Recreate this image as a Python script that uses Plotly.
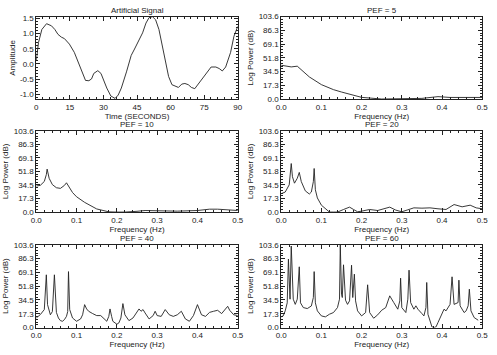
import plotly.graph_objects as go

# ---- Data ----
sig_t = [0, 1, 2.5, 4.6, 6.8, 8.3, 9.7, 11.2, 12.6, 14.8, 17, 19.2, 20.6, 22, 23.5, 24.7, 25.7,
         27.5, 28.9, 30, 31.5, 33.3, 35.2, 36.6, 38, 40.3, 42.4, 43.9, 46.1, 47.5, 49, 50.4, 51.9,
         53.3, 54.8, 56.2, 57.7, 59.1, 60.6, 62.1, 63.5, 65, 66.4, 67.9, 69.3, 70.8, 72.2, 73.7,
         75.9, 78.1, 80.2, 81.7, 83.1, 84.6, 86.8, 88.3, 90]
sig_v = [0.1, 0.7, 1.13, 1.32, 1.25, 1.13, 0.97, 0.88, 0.83, 0.65, 0.38, 0.0, -0.3, -0.54, -0.55,
         -0.49, -0.31, -0.22, -0.31, -0.52, -0.79, -1.05, -1.13, -1.02, -0.79, -0.26, 0.28, 0.49,
         0.81, 1.02, 1.34, 1.52, 1.55, 1.45, 1.13, 0.6, 0.06, -0.41, -0.68, -0.73, -0.77, -0.66,
         -0.64, -0.68, -0.77, -0.81, -0.68, -0.52, -0.31, -0.1, -0.1, -0.15, -0.23, -0.1, 0.38,
         0.91, 1.23]

pef5_f = [0, 0.025, 0.04, 0.05, 0.07, 0.1, 0.13, 0.15, 0.2, 0.25, 0.3, 0.35, 0.39, 0.42, 0.5]
pef5_p = [42.5, 40.4, 41.3, 37, 27.8, 18.1, 11.8, 8.8, 2.1, 0.0, 0.0, 0.8, 3.0, 2.0, 2.0]

pef10_f = [0, 0.01, 0.02, 0.025, 0.027, 0.032, 0.04, 0.05, 0.06, 0.07, 0.075, 0.08, 0.09, 0.1,
           0.12, 0.15, 0.18, 0.2, 0.22, 0.25, 0.27, 0.3, 0.35, 0.4, 0.43, 0.45, 0.5]
pef10_p = [33.2, 34, 39, 47.7, 54.7, 43, 35, 31, 30.2, 34, 37.3, 33, 24.9, 19.5, 12.4, 4, 0.3,
           0.0, 0.0, 1, 2, 1.7, 1.2, 2, 3.7, 3.7, 2]

pef20_f = [0, 0.01, 0.02, 0.025, 0.028, 0.033, 0.04, 0.045, 0.05, 0.06, 0.07, 0.075, 0.08, 0.082,
           0.085, 0.09, 0.1, 0.12, 0.13, 0.14, 0.155, 0.17, 0.18, 0.19, 0.2, 0.22, 0.24, 0.255,
           0.27, 0.285, 0.3, 0.315, 0.33, 0.35, 0.37, 0.39, 0.41, 0.43, 0.45, 0.47, 0.485, 0.5]
pef20_p = [23.4, 25.5, 34.7, 61.8, 45, 36.8, 43, 50.5, 38.8, 27, 23, 25.5, 38.8, 55.5, 28.4, 18,
           8.8, 0.0, 0.0, 0.0, 3.3, 6.3, 3.3, 0.4, 1.2, 3.3, 2, 4.2, 6.3, 2.5, 0.4, 2.9, 5.4, 5,
           5.4, 4.2, 3.3, 9.6, 6.7, 8.8, 5.4, 4.2]

pef40_f = [0, 0.01, 0.02, 0.025, 0.028, 0.035, 0.04, 0.045, 0.05, 0.055, 0.06, 0.065, 0.07, 0.075,
           0.078, 0.08, 0.083, 0.09, 0.1, 0.11, 0.115, 0.12, 0.125, 0.13, 0.14, 0.15, 0.16, 0.17,
           0.175, 0.18, 0.183, 0.187, 0.19, 0.2, 0.205, 0.21, 0.215, 0.22, 0.23, 0.24, 0.25, 0.255,
           0.26, 0.265, 0.27, 0.28, 0.29, 0.295, 0.3, 0.31, 0.32, 0.33, 0.34, 0.35, 0.36, 0.37,
           0.38, 0.39, 0.4, 0.41, 0.42, 0.43, 0.44, 0.45, 0.46, 0.47, 0.475, 0.48, 0.49, 0.5]
pef40_p = [12, 16.2, 22.5, 66, 28.7, 16, 20, 66, 19, 12, 8.7, 7.9, 10, 14, 20, 70, 22.5, 12, 7.9,
           10.8, 16, 28.7, 23.3, 20.4, 17.5, 15, 15, 10, 7.9, 14, 23.3, 14, 7.9, 4.2, 5.8, 12, 30,
           16, 8.7, 12, 20.4, 23.3, 20.4, 22.5, 18.3, 10.8, 15, 20.4, 15, 14, 22.5, 16, 14, 16,
           20.4, 10.8, 7.9, 15, 28.7, 16, 14, 19, 20.4, 21.6, 17.5, 23.3, 26.6, 21.6, 16, 15]

pef60_f = [0, 0.005, 0.01, 0.015, 0.018, 0.02, 0.022, 0.025, 0.028, 0.03, 0.035, 0.04, 0.045,
           0.048, 0.055, 0.065, 0.075, 0.08, 0.082, 0.085, 0.09, 0.1, 0.11, 0.12, 0.13, 0.14,
           0.145, 0.147, 0.15, 0.152, 0.155, 0.16, 0.165, 0.17, 0.175, 0.178, 0.182, 0.185, 0.19,
           0.2, 0.21, 0.215, 0.22, 0.23, 0.24, 0.25, 0.26, 0.27, 0.28, 0.29, 0.295, 0.297, 0.3,
           0.31, 0.315, 0.318, 0.322, 0.33, 0.335, 0.34, 0.35, 0.355, 0.36, 0.362, 0.365, 0.37,
           0.375, 0.38, 0.385, 0.39, 0.4, 0.405, 0.41, 0.42, 0.425, 0.43, 0.44, 0.442, 0.445,
           0.455, 0.46, 0.465, 0.468, 0.472, 0.48, 0.49]
pef60_p = [13.4, 14.6, 20.9, 31, 85.6, 39.7, 35.5, 102, 44, 35.5, 29, 35.5, 76, 31, 25, 23.8, 27,
           37.6, 70, 31, 20.9, 14.6, 13.4, 16.7, 18.8, 25, 35.5, 103.6, 41.8, 37.6, 78.5, 34.3, 29,
           33.4, 78, 37.6, 66.8, 33.4, 20.9, 14.6, 18.8, 53.5, 18.8, 11.7, 15.9, 21.7, 25, 39.7,
           31.3, 23, 33.4, 61.8, 25, 18.8, 35.5, 71.8, 31.3, 23, 27.2, 23, 17.5, 14.6, 25, 56.4,
           16.7, 7.5, 0.8, 0.0, 0.8, 6.3, 16.7, 23, 20.9, 29, 63.5, 29, 31.3, 59.3, 27.2, 18.8,
           20.9, 27.2, 48, 20.9, 12.5, 9.2]

titles = ["Artificial Signal", "PEF = 5", "PEF = 10", "PEF = 20", "PEF = 40", "PEF = 60"]
db_ticks = [0.0, 17.27, 34.53, 51.8, 69.07, 86.33, 103.6]
db_labels = ["0.0", "17.3", "34.5", "51.8", "69.1", "86.3", "103.6"]
f_ticks = [0.0, 0.1, 0.2, 0.3, 0.4, 0.5]
f_labels = ["0.0", "0.1", "0.2", "0.3", "0.4", "0.5"]
t_ticks = [0, 15, 30, 45, 60, 75, 90]
a_ticks = [-1.0, -0.5, 0.0, 0.5, 1.0, 1.5]
a_labels = ["-1.0", "-0.5", "0.0", "0.5", "1.0", "1.5"]

series = [(sig_t, sig_v), (pef5_f, pef5_p), (pef10_f, pef10_p),
          (pef20_f, pef20_p), (pef40_f, pef40_p), (pef60_f, pef60_p)]

W, H = 497, 355
cols = [(31, 237.5), (282, 488)]
rows = [(13, 97.5), (130, 213.5), (247, 332)]

FONT = "Liberation Sans, Arial, sans-serif"
LC = "#222222"

fig = go.Figure()
layout = {}
annotations = []
for i, (xs, ys) in enumerate(series):
    r, c = divmod(i, 2)
    n = "" if i == 0 else str(i + 1)
    x0, x1 = cols[c]
    y0, y1 = rows[r]
    xd = [x0 / W, x1 / W]
    yd = [1 - y1 / H, 1 - y0 / H]
    fig.add_trace(go.Scatter(x=xs, y=ys, mode="lines",
                             line=dict(color=LC, width=0.9),
                             xaxis="x" + n, yaxis="y" + n,
                             showlegend=False, cliponaxis=True))
    common = dict(showgrid=False, zeroline=False, showline=True, linecolor=LC,
                  linewidth=0.8, mirror="ticks", ticks="inside", ticklen=4,
                  tickcolor=LC, tickwidth=0.8,
                  tickfont=dict(family=FONT, size=8, color="#222"),
                  title_font=dict(family=FONT, size=8, color="#222"))
    if i == 0:
        xa = dict(common, domain=xd, range=[0, 90], tickvals=t_ticks,
                  ticktext=[str(v) for v in t_ticks],
                  minor=dict(ticks="inside", ticklen=2, tickcolor=LC, dtick=3),
                  title=dict(text="Time (SECONDS)", standoff=1))
        ya = dict(common, domain=yd, range=[-1.15, 1.55], tickvals=a_ticks,
                  ticktext=a_labels,
                  minor=dict(ticks="inside", ticklen=2, tickcolor=LC, dtick=0.1),
                  title=dict(text="Amplitude", standoff=3))
    else:
        xa = dict(common, domain=xd, range=[0, 0.5], tickvals=f_ticks,
                  ticktext=f_labels,
                  minor=dict(ticks="inside", ticklen=2, tickcolor=LC, dtick=0.02),
                  title=dict(text="Frequency (Hz)", standoff=1))
        ya = dict(common, domain=yd, range=[0, 103.6], tickvals=db_ticks,
                  ticktext=db_labels,
                  minor=dict(ticks="inside", ticklen=2, tickcolor=LC,
                             tickvals=[k * 103.6 / 30 for k in range(31)]),
                  title=dict(text="Log Power (dB)", standoff=3))
    xa["anchor"] = "y" + n
    ya["anchor"] = "x" + n
    layout["xaxis" + n] = xa
    layout["yaxis" + n] = ya
    annotations.append(dict(text=titles[i], x=(xd[0] + xd[1]) / 2, y=yd[1],
                            xref="paper", yref="paper", xanchor="center",
                            yanchor="bottom", yshift=0, showarrow=False,
                            font=dict(family=FONT, size=8, color="#222")))

fig.update_layout(**layout)
fig.update_layout(width=W, height=H, margin=dict(l=0, r=0, t=0, b=0),
                  paper_bgcolor="white", plot_bgcolor="white",
                  annotations=annotations)
fig.write_html("out.html")
